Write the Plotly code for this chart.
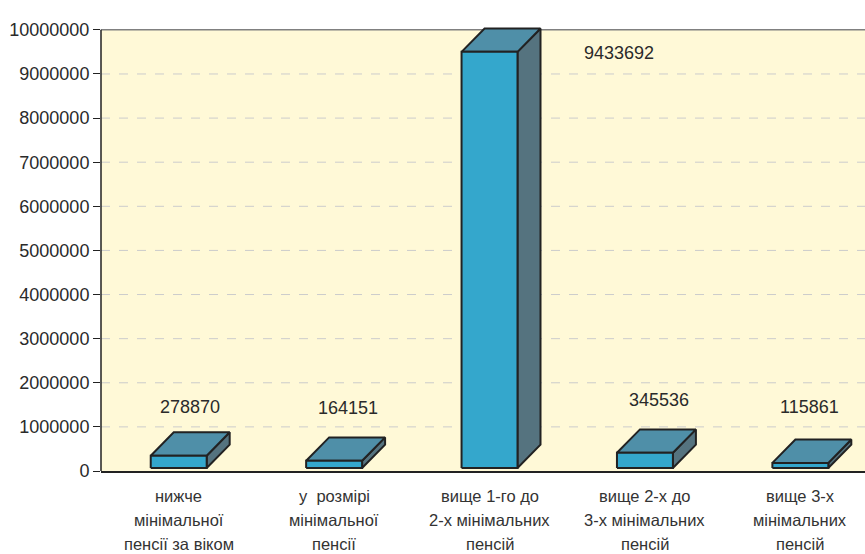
import plotly.graph_objects as go

# ---- data ----
categories = [
    "нижче<br>мінімальної<br>пенсії за віком",
    "у  розмірі<br>мінімальної<br>пенсії",
    "вище 1-го до<br>2-х мінімальних<br>пенсій",
    "вище 2-х до<br>3-х мінімальних<br>пенсій",
    "вище 3-х<br>мінімальних<br>пенсій",
]
values = [278870, 164151, 9433692, 345536, 115861]
y_ticks = list(range(0, 10000001, 1000000))

# ---- style ----
FRONT = "#34A7CC"
TOP = "#4F8FA8"
SIDE = "#55737F"
EDGE = "#222222"
BG = "#FFF9D7"
half_w = 0.18
depth_x = 0.148
depth_y = 530000
floor = 68000
label_dx = [0.07, 0.09, 0.83, 0.09, 0.06]
label_dy = [1.17e6, 1.27e6, 0.05e6, 1.26e6, 1.33e6]
num_font = dict(family="Liberation Sans, Arial", size=18, color="#2a2a2a")
cat_font = dict(family="Liberation Sans, Arial", size=16.5, color="#333333")

fig = go.Figure()

def poly_trace(pts_list, color):
    xs, ys = [], []
    for pts in pts_list:
        for (px, py) in pts + [pts[0]]:
            xs.append(px)
            ys.append(py)
        xs.append(None)
        ys.append(None)
    return go.Scatter(x=xs, y=ys, mode="lines", fill="toself", fillcolor=color,
                      line=dict(color=EDGE, width=2), hoverinfo="skip", showlegend=False)

for i, v in enumerate(values):
    b = floor
    t = floor + v
    front = [(i - half_w, b), (i + half_w, b), (i + half_w, t), (i - half_w, t)]
    top = [(i - half_w, t), (i + half_w, t), (i + half_w + depth_x, t + depth_y), (i - half_w + depth_x, t + depth_y)]
    side = [(i + half_w, b), (i + half_w + depth_x, b + depth_y), (i + half_w + depth_x, t + depth_y), (i + half_w, t)]
    fig.add_trace(poly_trace([side], SIDE))
    fig.add_trace(poly_trace([top], TOP))
    fig.add_trace(poly_trace([front], FRONT))

annotations = []
for i, v in enumerate(values):
    annotations.append(dict(x=i + label_dx[i], y=v + label_dy[i], xref="x", yref="y",
                            text=str(v), showarrow=False, font=num_font,
                            xanchor="center", yanchor="middle"))

for i, c in enumerate(categories):
    for j, line in enumerate(c.split("<br>")):
        annotations.append(dict(x=i, y=0, xref="x", yref="paper", text=line, showarrow=False,
                                font=cat_font, xanchor="center", yanchor="middle",
                                yshift=-(25 + j * 24)))

shapes = [
    dict(type="rect", xref="paper", yref="y", x0=0, x1=1, y0=0, y1=y_ticks[-1],
         fillcolor=BG, line=dict(width=0), layer="below"),
]
for yv in y_ticks[1:-1]:
    shapes.append(dict(type="line", xref="paper", yref="y", x0=0, x1=1, y0=yv, y1=yv,
                       line=dict(color="#CCCCCC", width=1, dash="dash"), layer="below"))
shapes += [
    dict(type="line", xref="paper", yref="y", x0=0, x1=1, y0=y_ticks[-1], y1=y_ticks[-1],
         line=dict(color="#808080", width=1.5), layer="below"),
    dict(type="line", xref="paper", yref="y", x0=0, x1=0, y0=0, y1=y_ticks[-1],
         line=dict(color="#222222", width=1.5), layer="above"),
]

fig.update_layout(
    width=865, height=554,
    margin=dict(l=101, r=0, t=25, b=83),
    paper_bgcolor="white", plot_bgcolor="white",
    showlegend=False,
    annotations=annotations,
    shapes=shapes,
    xaxis=dict(range=[-0.5, 4.416], showgrid=False, zeroline=False, showticklabels=False,
               showline=True, linecolor="#222222", linewidth=1.5, ticks="", fixedrange=True,
               automargin=False),
    yaxis=dict(range=[0, 10110000], tickvals=y_ticks, ticktext=[str(t) for t in y_ticks],
               showgrid=False, zeroline=False, showline=False, ticks="outside", ticklen=7,
               tickcolor="#222222", tickfont=num_font, automargin=False),
)

fig.write_html("out.html", config={"displayModeBar": False},
               post_script="document.body.style.margin='0';document.body.style.overflow='hidden';")
